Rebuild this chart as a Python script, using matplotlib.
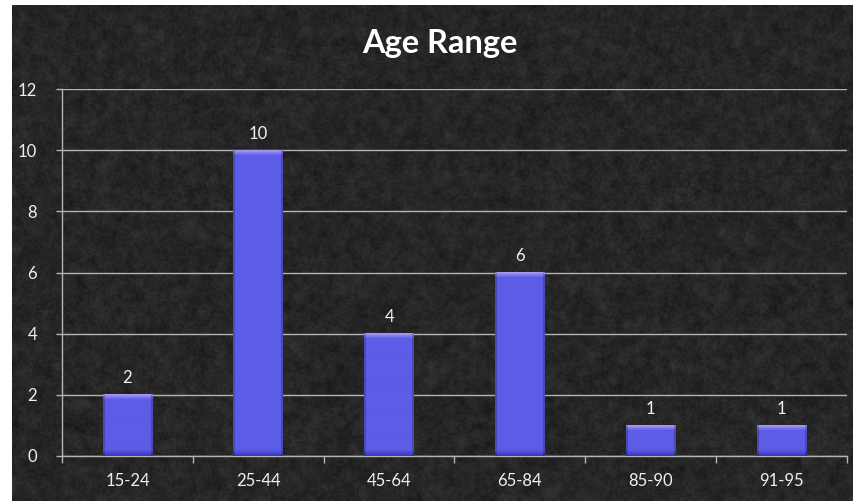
import matplotlib.pyplot as plt
import numpy as np
from matplotlib.colors import to_rgb

categorias = ["15-24", "25-44", "45-64", "65-84", "85-90", "91-95"]
contagens = [2, 10, 4, 6, 1, 1]
y_ticks = [0, 2, 4, 6, 8, 10, 12]

W, H = 854, 501
fig = plt.figure(figsize=(W / 100, H / 100), dpi=100, facecolor="white")

# fundo escuro granulado (textura fixa, sem relação com os dados)
bg_ax = fig.add_axes([12 / W, 0, (W - 12) / W, (H - 5) / H])
bg_ax.axis("off")
rng = np.random.default_rng(7)
manchas = rng.normal(0, 1, (90, 160))
bg_ax.imshow(0.135 + 0.025 * manchas, cmap="gray", vmin=0, vmax=1,
             aspect="auto", interpolation="bicubic",
             extent=(0, 1, 0, 1), zorder=0)
grao = rng.normal(0, 1, (250, 420))
bg_ax.imshow(0.5 + 0.5 * grao, cmap="gray", vmin=0, vmax=1, alpha=0.05,
             aspect="auto", interpolation="bilinear",
             extent=(0, 1, 0, 1), zorder=1)
bg_ax.set_xlim(0, 1)
bg_ax.set_ylim(0, 1)

px_por_unidade = (456 - 89) / 12
ax = fig.add_axes([62 / W, (H - 456) / H, (847 - 62) / W, (456 - 89) / H])
ax.patch.set_alpha(0)

base = np.array(to_rgb("#5c5ce6"))
topo = np.array(to_rgb("#a698f2"))
fundo = np.array(to_rgb("#3838c4"))


def imagem_barra(v, largura_px=50):
    """Preenchimento da barra: faixa clara no topo, mais escura na base."""
    altura_px = max(int(round(v * px_por_unidade)), 2)
    linhas = np.zeros((altura_px, 1, 3))
    for i in range(altura_px):
        d_topo = altura_px - 1 - i
        cor = base.copy()
        if d_topo < 5:
            t = 1 - d_topo / 5
            cor = base + (topo - base) * t
        elif i < 6:
            t = 1 - i / 6
            cor = base + (fundo - base) * t
        linhas[i, 0] = cor
    img = np.repeat(linhas, largura_px, axis=1)
    bordas = np.ones(largura_px)
    bordas[:2] = 0.8
    bordas[-2:] = 0.8
    return np.clip(img * bordas[None, :, None], 0, 1)


x = np.arange(len(categorias))
largura = 0.38
for xi, v in zip(x, contagens):
    ax.imshow(imagem_barra(v), aspect="auto", origin="lower",
              extent=(xi - largura / 2, xi + largura / 2, 0, v), zorder=3,
              interpolation="bilinear")
    ax.text(xi, v + 0.28, str(v), ha="center", va="bottom", color="#f2f2f2",
            fontsize=12, family="Lato", zorder=5)

ax.set_xlim(-0.5, len(categorias) - 0.5)
ax.set_ylim(0, 12)
ax.set_yticks(y_ticks)
ax.set_yticklabels([str(t) for t in y_ticks], color="#f0f0f0", fontsize=12,
                   family="Lato")
ax.grid(axis="y", color="#b4b4b4", linewidth=1.0, zorder=1)
ax.set_axisbelow(True)

ax.set_xticks(x)
ax.set_xticklabels(categorias, color="#f0f0f0", fontsize=12, family="Lato")
ax.tick_params(axis="x", length=0, pad=12)
ax.set_xticks(np.arange(-0.5, len(categorias)), minor=True)
ax.tick_params(axis="x", which="minor", length=5, color="#b4b4b4", width=1.0)
ax.tick_params(axis="y", length=4, color="#b4b4b4", width=1.0, pad=14)

for lado in ["top", "right"]:
    ax.spines[lado].set_visible(False)
for lado in ["left", "bottom"]:
    ax.spines[lado].set_color("#b4b4b4")
    ax.spines[lado].set_linewidth(1.0)

fig.text(440 / W, 1 - 44 / H, "Age Range", ha="center", va="center",
         color="white", fontsize=23.5, fontweight="bold", family="Lato")

fig.savefig("out.png", dpi=100, facecolor="white")
